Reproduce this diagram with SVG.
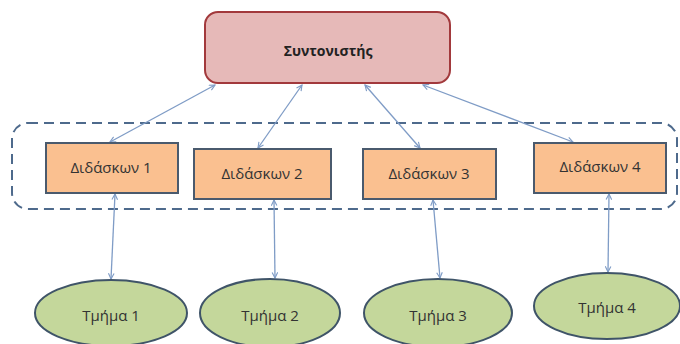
<svg xmlns="http://www.w3.org/2000/svg" width="680" height="344" viewBox="0 0 680 344">
<style>
.lbl{font-family:"Open Sans","Noto Sans","Liberation Sans",sans-serif;font-size:15px;fill:#333;text-anchor:middle;dominant-baseline:central}
.ttl{font-size:14px;font-weight:bold;fill:#222}
.box{fill:#fac090;stroke:#4a5a6d;stroke-width:2}
.ell{fill:#c4d79b;stroke:#3f5468;stroke-width:2}
.con{stroke:#7f9cc6;stroke-width:1.3;fill:none;marker-start:url(#ah);marker-end:url(#ah)}
</style>
<defs>
<marker id="ah" viewBox="0 0 10 10" refX="9" refY="5" markerWidth="7" markerHeight="7" markerUnits="userSpaceOnUse" orient="auto-start-reverse">
<path d="M1,1 L9,5 L1,9" fill="none" stroke="#7f9cc6" stroke-width="1.6"/>
</marker>
</defs>
<rect width="680" height="344" fill="#fff"/>
<g id="group">
<rect x="12" y="123" width="665" height="86" rx="16" fill="none" stroke="#4e6a8c" stroke-width="2" stroke-dasharray="10,6"/>
</g>
<g id="connectors">
<line class="con" x1="215" y1="85" x2="110" y2="142"/>
<line class="con" x1="302" y1="85" x2="258" y2="148"/>
<line class="con" x1="365" y1="85" x2="420" y2="148"/>
<line class="con" x1="423" y1="85" x2="573" y2="142"/>
<line class="con" x1="115" y1="194" x2="111" y2="279"/>
<line class="con" x1="274" y1="200" x2="275" y2="278"/>
<line class="con" x1="433" y1="200" x2="440" y2="278"/>
<line class="con" x1="609" y1="194" x2="608" y2="272"/>
</g>
<g id="coordinator">
<rect x="205" y="12" width="245" height="71" rx="13" fill="#e6b9b8" stroke="#a2393c" stroke-width="2"/>
<text class="lbl ttl" x="328" y="50">Συντονιστής</text>
</g>
<g id="teacher1"><rect class="box" x="46" y="143" width="132" height="50"/><text class="lbl" x="111" y="167">Διδάσκων 1</text></g>
<g id="teacher2"><rect class="box" x="194" y="149" width="137" height="50"/><text class="lbl" x="262" y="173">Διδάσκων 2</text></g>
<g id="teacher3"><rect class="box" x="363" y="149" width="133" height="50"/><text class="lbl" x="429" y="173">Διδάσκων 3</text></g>
<g id="teacher4"><rect class="box" x="534" y="143" width="132" height="50"/><text class="lbl" x="600" y="166">Διδάσκων 4</text></g>
<g id="dept1"><ellipse class="ell" cx="111" cy="313" rx="76" ry="33"/><text class="lbl" x="111" y="315">Τμήμα 1</text></g>
<g id="dept2"><ellipse class="ell" cx="270" cy="313" rx="70" ry="34"/><text class="lbl" x="270" y="315">Τμήμα 2</text></g>
<g id="dept3"><ellipse class="ell" cx="438" cy="313" rx="74" ry="34"/><text class="lbl" x="438" y="315">Τμήμα 3</text></g>
<g id="dept4"><ellipse class="ell" cx="607" cy="306" rx="73" ry="33"/><text class="lbl" x="607" y="307">Τμήμα 4</text></g>
</svg>
